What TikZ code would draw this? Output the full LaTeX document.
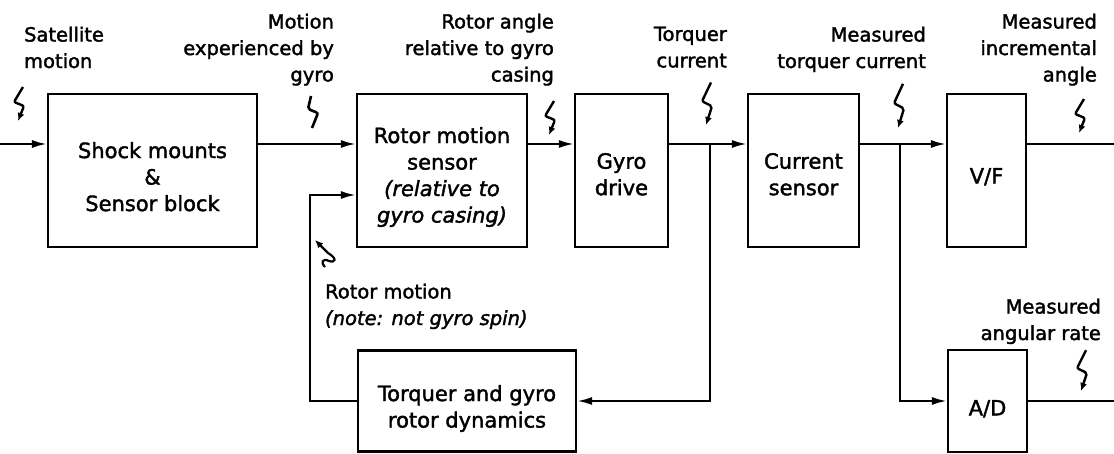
\documentclass[tikz,border=0pt]{standalone}
\usepackage{fontspec}
\setmainfont{DejaVu Sans}[FakeBold=1.8]
\usetikzlibrary{arrows.meta}
\tikzset{
  box/.style={draw, rectangle, inner sep=0pt, line width=2.2pt},
  lab/.style={inner sep=0pt, font=\fontsize{19.5}{26.5}\selectfont},
  btxt/.style={inner sep=0pt, align=center, anchor=north, font=\fontsize{21}{26.5}\selectfont},
  flow/.style={-{Latex[length=15pt,width=8pt]}},
  bolt/.pic={\draw[line width=2.4pt, rounded corners=2pt, -{Latex[length=8pt,width=7pt]}] (5,-34) -- (-4,-19) -- (6,-15) -- (0,0);},
  boltn/.pic={\draw[line width=2.6pt, rounded corners=2pt] (-1,-32) -- (-4,-19) -- (6,-15) -- (0,0);}
}
\begin{document}
\begin{tikzpicture}[x=1pt,y=-1pt,line width=2.2pt]
\useasboundingbox (0,0) rectangle (1114,454);

% boxes
\node[box, minimum width=209pt, minimum height=153pt] (shock) at (152.5,170.5) {};
\node[box, minimum width=170pt, minimum height=153pt] (sensor) at (442,170.5) {};
\node[box, minimum width=93pt, minimum height=153pt] (drive) at (621.5,170.5) {};
\node[box, minimum width=111pt, minimum height=153pt] (cursens) at (803.5,170.5) {};
\node[box, minimum width=79pt, minimum height=153pt] (vf) at (986.5,170.5) {};
\node[box, minimum width=218pt, minimum height=101pt] (dyn) at (467,401) {};
\node[box, minimum width=79pt, minimum height=102pt] (ad) at (987.5,401) {};

% box texts
\node[btxt] (shockT) at (152.5,141) {Shock mounts\\\&\\Sensor block};
\node[btxt] (sensorT) at (442,126) {Rotor motion\\sensor\\\itshape (relative to\\\itshape gyro casing)};
\node[btxt] (driveT) at (621.5,152) {Gyro\\drive};
\node[btxt] (cursensT) at (803.5,152) {Current\\sensor};
\node[btxt] (vfT) at (986.5,167) {V/F};
\node[btxt] (dynT) at (467,384) {Torquer and gyro\\rotor dynamics};
\node[btxt] (adT) at (987.5,399) {A/D};

% coordinates
\coordinate (in) at (0,144);
\coordinate (outA) at (1114,144);
\coordinate (outB) at (1114,401);
\coordinate (j1) at (710,144);
\coordinate (j2) at (900,144);
\coordinate (fb) at (310,195);

% connectors
\draw[flow] (in) -- (in -| shock.west);
\draw[flow] (in -| shock.east) -- (in -| sensor.west);
\draw[flow] (in -| sensor.east) -- (in -| drive.west);
\draw[flow] (in -| drive.east) -- (in -| cursens.west);
\draw[flow] (j1) |- (dyn.east);
\draw[flow] (dyn.west) -| (fb) -- (fb -| sensor.west);
\draw[flow] (in -| cursens.east) -- (in -| vf.west);
\draw[flow] (j2) |- (ad.west);
\draw (in -| vf.east) -- (outA);
\draw (ad.east) -- (outB);

% signal labels
\node[lab, anchor=north west, align=left] (l1) at (23,25.6) {Satellite\\motion};
\node[lab, anchor=north east, align=right] (l2) at (335,12.6) {Motion\\experienced by\\gyro};
\node[lab, anchor=north east, align=right] (l3) at (555,12.6) {Rotor angle\\relative to gyro\\casing};
\node[lab, anchor=north east, align=right] (l4) at (728,25.6) {Torquer\\current};
\node[lab, anchor=north east, align=right] (l5) at (927,25.6) {Measured\\torquer current};
\node[lab, anchor=north east, align=right] (l6) at (1098,12.6) {Measured\\incremental\\angle};
\node[lab, anchor=north east, align=right] (l7) at (1102,297.6) {Measured\\angular rate};
\node[lab, anchor=north west, align=left] (l8) at (324,282.6) {Rotor motion\\\itshape (note: not gyro spin)};

% squiggle pointers
\pic at (18,121) {bolt};
\pic at (312,128) {boltn};
\pic at (549,135) {bolt};
\pic[yscale=1.25] at (706,125) {bolt};
\pic[yscale=1.3] at (898,128) {bolt};
\pic at (1079,133) {bolt};
\pic[yscale=1.2] at (1081,391) {bolt};
\draw[line width=2.2pt, -{Latex[length=8pt,width=7pt]}] (325,267) .. controls (320,262) and (323,258) .. (329,261) .. controls (335,263) and (338,259) .. (328,253) -- (315,240);
\end{tikzpicture}
\end{document}
